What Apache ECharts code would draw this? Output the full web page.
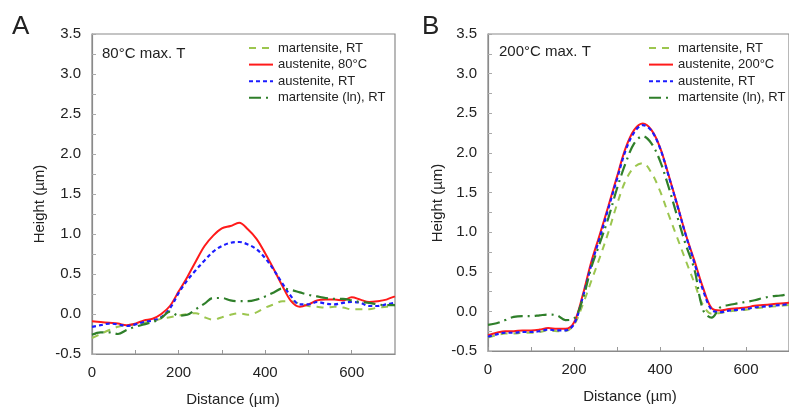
<!DOCTYPE html>
<html><head><meta charset="utf-8">
<script src="https://cdn.jsdelivr.net/npm/echarts@6/dist/echarts.min.js"></script>
<style>html,body{margin:0;padding:0;background:#fff}#c{width:789px;height:410px}</style>
</head><body><div id="c"></div>
<script>
// ---------- Data ----------
const dist = [0,20,40,60,80,100,120,140,160,180,200,220,240,260,280,300,320,340,360,380,400,420,440,460,480,500,520,540,560,580,600,620,640,660,680,700];

// Panel A: 80°C max. T
const aMartRT   = [-0.30,-0.25,-0.20,-0.16,-0.14,-0.13,-0.11,-0.09,-0.06,-0.04,-0.02,0.00,0.01,-0.04,-0.07,-0.04,-0.01,0.01,-0.01,0.02,0.08,0.12,0.16,0.16,0.13,0.10,0.09,0.08,0.09,0.08,0.06,0.06,0.06,0.08,0.09,0.11];
const aAust80   = [-0.09,-0.10,-0.11,-0.12,-0.14,-0.12,-0.08,-0.06,0.00,0.10,0.28,0.46,0.66,0.85,0.98,1.07,1.10,1.14,1.06,0.94,0.76,0.56,0.35,0.16,0.09,0.12,0.17,0.18,0.18,0.17,0.21,0.18,0.15,0.16,0.18,0.22];
const aAustRT   = [-0.16,-0.14,-0.12,-0.13,-0.15,-0.13,-0.10,-0.08,-0.04,0.07,0.26,0.42,0.55,0.67,0.78,0.85,0.89,0.90,0.87,0.81,0.70,0.55,0.38,0.22,0.12,0.12,0.15,0.13,0.12,0.14,0.15,0.14,0.10,0.10,0.12,0.14];
const aMartLn   = [-0.26,-0.23,-0.23,-0.25,-0.20,-0.16,-0.13,-0.10,-0.05,0.03,-0.02,-0.01,0.06,0.13,0.20,0.20,0.17,0.16,0.16,0.18,0.22,0.27,0.32,0.30,0.27,0.24,0.22,0.20,0.19,0.19,0.17,0.15,0.14,0.12,0.11,0.11];

// Panel B: 200°C max. T
const bMartRT   = [-0.33,-0.30,-0.28,-0.28,-0.27,-0.27,-0.26,-0.24,-0.25,-0.25,-0.17,0.08,0.38,0.68,1.00,1.35,1.65,1.82,1.87,1.75,1.52,1.22,0.93,0.64,0.36,0.08,-0.03,-0.02,0.00,0.01,0.02,0.04,0.05,0.06,0.07,0.08];
const bAust200  = [-0.30,-0.27,-0.25,-0.25,-0.24,-0.24,-0.23,-0.21,-0.22,-0.22,-0.14,0.20,0.62,0.97,1.33,1.70,2.06,2.29,2.37,2.29,2.07,1.72,1.35,0.97,0.64,0.30,0.04,0.01,0.03,0.04,0.05,0.07,0.08,0.09,0.10,0.11];
const bAustRT   = [-0.32,-0.29,-0.27,-0.27,-0.26,-0.26,-0.25,-0.23,-0.24,-0.24,-0.16,0.17,0.58,0.93,1.30,1.67,2.03,2.26,2.35,2.28,2.06,1.71,1.34,0.96,0.61,0.27,0.02,-0.01,0.01,0.02,0.03,0.05,0.06,0.07,0.08,0.09];
const bMartLn   = [-0.17,-0.15,-0.11,-0.07,-0.06,-0.06,-0.05,-0.04,-0.05,-0.11,-0.09,0.15,0.55,0.86,1.18,1.55,1.87,2.12,2.21,2.12,1.90,1.57,1.20,0.84,0.53,0.02,-0.08,0.05,0.08,0.10,0.12,0.14,0.17,0.19,0.20,0.22];

const xTicks = [0,200,400,600];
const yTicks = [-0.5,0.0,0.5,1.0,1.5,2.0,2.5,3.0,3.5];

const namesA = ['martensite, RT','austenite, 80°C','austenite, RT','martensite (ln), RT'];
const namesB = ['martensite, RT','austenite, 200°C','austenite, RT','martensite (ln), RT'];

// ---------- Styles ----------
const FONT = 'Liberation Sans, Arial, sans-serif';
const styles = [
  {color:'#9cc64f', width:2, type:[7,6]},
  {color:'#ff1a1a', width:2, type:'solid'},
  {color:'#1c1cff', width:2.2, type:[4,3]},
  {color:'#2f7f2a', width:2.2, type:[12,5,2,5]}
];

function pairs(ys){ return dist.map((d,i)=>[d, ys[i]]); }
function mkSeries(names, arrs, idx){
  return arrs.map((ys,k)=>({
    name: names[k], type:'line', xAxisIndex: idx, yAxisIndex: idx,
    data: pairs(ys), symbol:'none', showSymbol:false, smooth:0.35,
    lineStyle:{color:styles[k].color, width:styles[k].width, type:styles[k].type},
    itemStyle:{color:styles[k].color},
    z: 2 + k
  }));
}

function xAxis(idx){
  return {
    gridIndex: idx, type:'value', min:0, max:700, interval:100,
    axisLine:{show:true, onZero:false, lineStyle:{color:'#8a8a8a', width:1.2}},
    axisTick:{show:true, inside:true, length:4, lineStyle:{color:'#999'}},
    splitLine:{show:false},
    axisLabel:{margin:11, fontSize:15, color:'#222', fontFamily:FONT,
      showMaxLabel:false,
      formatter: v => xTicks.includes(v) ? String(v) : ''}
  };
}
function yAxis(idx){
  return {
    gridIndex: idx, type:'value', min:-0.5, max:3.5, interval:0.25,
    axisLine:{show:true, onZero:false, lineStyle:{color:'#8a8a8a', width:1.2}},
    axisTick:{show:true, inside:true, length:4, lineStyle:{color:'#aaa'}},
    splitLine:{show:false},
    axisLabel:{margin:11, fontSize:15, color:'#222', fontFamily:FONT,
      formatter: v => { const r = Math.round(v*100)/100; return yTicks.some(t=>Math.abs(t-r)<1e-6) ? r.toFixed(1) : ''; }}
  };
}
function legend(names, left){
  return {
    orient:'vertical', left:left, top:41, padding:0, itemWidth:24, itemHeight:14, itemGap:2.6,
    selectedMode:false, data:names,
    itemStyle:{opacity:0, borderWidth:0},
    textStyle:{fontSize:13, color:'#222', fontFamily:FONT, lineHeight:14}
  };
}

const chart = echarts.init(document.getElementById('c'), null, {renderer:'canvas'});
chart.setOption({
  animation:false,
  backgroundColor:'#fff',
  grid:[
    {left:92, top:34, width:303, height:320, show:true, borderColor:'#8a8a8a', borderWidth:1.2, containLabel:false},
    {left:488, top:34, width:303, height:317, show:true, borderColor:'#8a8a8a', borderWidth:1.2, containLabel:false}
  ],
  xAxis:[xAxis(0), xAxis(1)],
  yAxis:[yAxis(0), yAxis(1)],
  legend:[legend(namesA, 248), legend(namesB, 648)],
  series:[].concat(
    mkSeries(namesA, [aMartRT, aAust80, aAustRT, aMartLn], 0),
    mkSeries(namesB, [bMartRT, bAust200, bAustRT, bMartLn], 1)
  ),
  graphic:[
    {type:'text', left:12, top:14, style:{text:'A', fontSize:26, fontFamily:FONT, fill:'#222'}},
    {type:'text', left:422, top:14, style:{text:'B', fontSize:26, fontFamily:FONT, fill:'#222'}},
    {type:'text', left:102, top:46, style:{text:'80°C max. T', fontSize:15, fontFamily:FONT, fill:'#222'}},
    {type:'text', left:499, top:44, style:{text:'200°C max. T', fontSize:15, fontFamily:FONT, fill:'#222'}},
    {type:'text', x:233, y:400, style:{text:'Distance (µm)', fontSize:15, fontFamily:FONT, fill:'#222', align:'center', verticalAlign:'middle'}},
    {type:'text', x:630, y:397, style:{text:'Distance (µm)', fontSize:15, fontFamily:FONT, fill:'#222', align:'center', verticalAlign:'middle'}},
    {type:'text', x:40, y:204, rotation:Math.PI/2, style:{text:'Height (µm)', fontSize:15, fontFamily:FONT, fill:'#222', align:'center', verticalAlign:'middle'}},
    {type:'text', x:438, y:203, rotation:Math.PI/2, style:{text:'Height (µm)', fontSize:15, fontFamily:FONT, fill:'#222', align:'center', verticalAlign:'middle'}}
  ]
});
</script>
</body></html>
